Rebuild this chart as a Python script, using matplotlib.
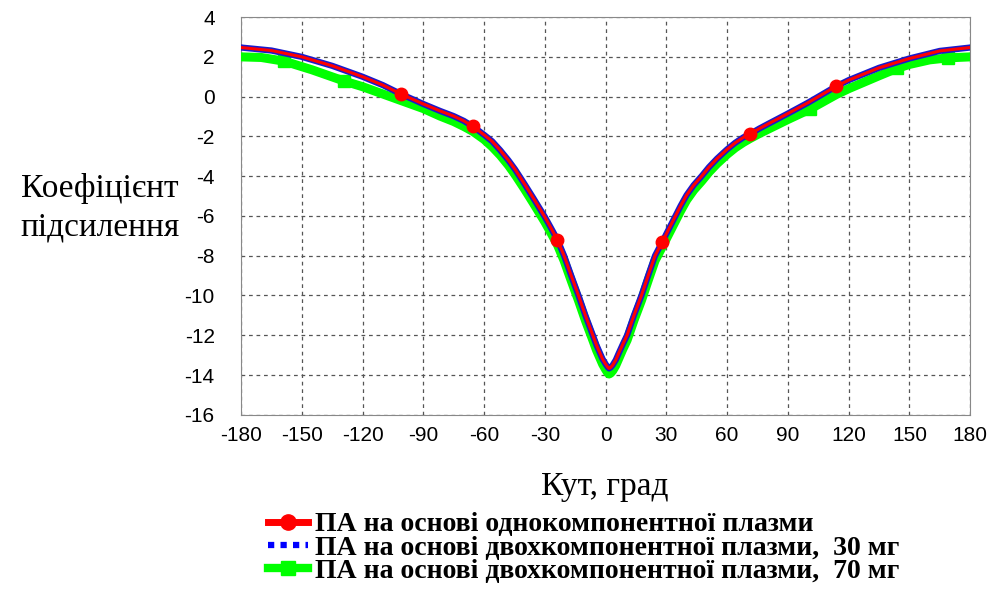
import matplotlib.pyplot as plt
from matplotlib.lines import Line2D

plt.rcParams["axes.unicode_minus"] = False

# angle, degrees / gain for single-component plasma antenna
angle_single = [-180, -165, -150, -135, -120, -110, -101, -90, -81.7, -75, -70, -65.5, -60,
                -56, -52, -48, -44.7, -40, -35.7, -30, -27, -23.8, -20.5, -17, -13.4, -10,
                -6.3, -4.5, -3, -1.5, 0, 1, 1.7, 2.5, 3.5, 5, 6.5, 8.5, 10.6, 14, 17.7, 21,
                24.4, 28, 31, 34.5, 37, 40, 43.5, 47.4, 51, 55, 60, 64, 68, 71.4, 76, 81,
                90, 100, 113.8, 120, 135, 150, 165, 180]
gain_single = [2.47, 2.32, 2.0, 1.55, 1.0, 0.58, 0.13, -0.37, -0.72, -0.98, -1.22, -1.5,
               -1.92, -2.25, -2.7, -3.2, -3.66, -4.4, -5.1, -6.05, -6.6, -7.2, -8.0, -9.0,
               -10.0, -11.0, -12.0, -12.5, -12.85, -13.2, -13.45, -13.6, -13.67, -13.62,
               -13.5, -13.25, -12.9, -12.45, -12.0, -11.0, -10.0, -9.0, -8.0, -7.3, -6.7,
               -6.0, -5.5, -4.95, -4.45, -4.0, -3.55, -3.12, -2.65, -2.32, -2.05, -1.87,
               -1.6, -1.33, -0.85, -0.3, 0.52, 0.83, 1.45, 1.92, 2.3, 2.47]
marks_single = [-101, -65.5, -23.8, 28, 71.4, 113.8]

# two-component plasma, 30 mg: coincides with the single-component curve at this scale
angle_30 = list(angle_single)
gain_30 = list(gain_single)

# two-component plasma, 70 mg
angle_70 = [-180, -170, -158.6, -145, -129, -120, -105, -90, -81.7, -75, -70, -65.5, -60,
            -56, -52, -48, -44.7, -40, -35.7, -30, -27, -23.8, -20.5, -17, -13.4, -10, -6.3,
            -4.5, -3, -1.5, 0, 1, 1.7, 2.5, 3.5, 5, 6.5, 8.5, 10.6, 14, 17.7, 21, 24.4, 28,
            31, 34.5, 37, 40, 43.5, 47.4, 51, 55, 60, 64, 68, 71.4, 76, 81, 90, 100.9,
            113.8, 120, 135, 143.8, 150, 160, 169, 180]
gain_70 = [2.0, 1.97, 1.78, 1.35, 0.78, 0.5, -0.05, -0.6, -0.98, -1.25, -1.5, -1.75, -2.15,
           -2.52, -2.95, -3.45, -3.92, -4.65, -5.35, -6.3, -6.85, -7.45, -8.25, -9.25,
           -10.25, -11.25, -12.25, -12.75, -13.1, -13.45, -13.72, -13.88, -13.95, -13.9,
           -13.78, -13.52, -13.17, -12.7, -12.25, -11.25, -10.25, -9.25, -8.25, -7.55,
           -6.95, -6.25, -5.75, -5.2, -4.7, -4.25, -3.8, -3.37, -2.9, -2.57, -2.3, -2.1,
           -1.85, -1.6, -1.15, -0.63, 0.1, 0.4, 1.05, 1.42, 1.62, 1.85, 1.95, 2.0]
marks_70 = [-158.6, -129, 100.9, 143.8, 169]

x_ticks = list(range(-180, 181, 30))
y_ticks = list(range(-16, 5, 2))

labels = ["ПА на основі однокомпонентної плазми",
          "ПА на основі двохкомпонентної плазми,  30 мг",
          "ПА на основі двохкомпонентної плазми,  70 мг"]

fig = plt.figure(figsize=(9.92, 5.9), dpi=100)
ax = fig.add_axes([0.243, 0.297, 0.735, 0.674])

ax.plot(angle_70, gain_70, color="#00ff00", lw=6.5, marker="s", ms=9,
        markevery=[angle_70.index(a) for a in marks_70], zorder=3)
ax.plot(angle_30, gain_30, color="#1a1acc", lw=4.5, zorder=4)
ax.plot(angle_single, gain_single, color="#ff0000", lw=2.2, marker="o", ms=9,
        markevery=[angle_single.index(a) for a in marks_single], zorder=5)

ax.set_xlim(-180, 180)
ax.set_ylim(-16, 4)
ax.set_xticks(x_ticks)
ax.set_yticks(y_ticks)
ax.tick_params(length=0, labelsize=15, pad=8)
ax.tick_params(axis="y", pad=19)
for lbl in ax.get_xticklabels() + ax.get_yticklabels():
    lbl.set_family("Liberation Sans")
ax.grid(True, color="#555555", ls=(0, (3, 3)), lw=0.9)
for s in ax.spines.values():
    s.set_color("#888888")

fig.text(100 / 992, 1 - 208 / 590, "Коефіцієнт\nпідсилення", ha="center", va="center",
         fontsize=24, family="Liberation Serif", linespacing=1.35)
fig.text(605 / 992, 1 - 487 / 590, "Кут, град", ha="center", va="center",
         fontsize=24, family="Liberation Serif")

handles = [
    Line2D([], [], color="#ff0000", lw=5, marker="o", ms=11),
    Line2D([], [], color="#0000ff", lw=4.5, ls=(0, (1, 1))),
    Line2D([], [], color="#00ff00", lw=6, marker="s", ms=10),
]
fig.legend(handles, labels, loc="upper left", bbox_to_anchor=(0.27, 1 - 512 / 590),
           frameon=False, borderpad=0, borderaxespad=0, handlelength=1.45,
           handletextpad=0.25, labelspacing=-0.08,
           prop={"family": "Liberation Serif", "weight": "bold", "size": 20})

fig.savefig("out.png", dpi=100)
